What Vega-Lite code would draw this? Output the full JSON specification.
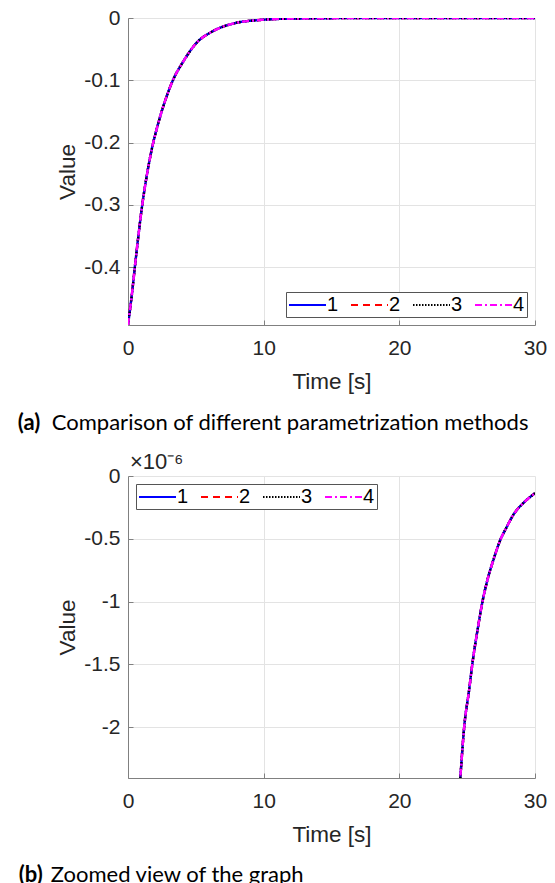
{
  "$schema": "https://vega.github.io/schema/vega-lite/v6.json",
  "background": "white",
  "padding": {"left": 17, "top": 7, "right": 5, "bottom": 0},
  "spacing": 17,
  "config": {
    "view": {"stroke": null},
    "font": "Liberation Sans",
    "axis": {
      "labelFont": "Liberation Sans", "labelFontSize": 21, "labelColor": "#262626",
      "titleFont": "Liberation Sans", "titleFontSize": 22.5, "titleFontWeight": "normal", "titleColor": "#262626",
      "gridColor": "#e3e3e3", "domainColor": "#808080", "tickColor": "#808080",
      "ticks": true, "tickSize": -5, "labelPadding": 13
    },
    "axisX": {"labelPadding": 17, "titlePadding": 12},
    "legend": {
      "title": null, "direction": "horizontal", "symbolType": "M-1,0H2.7", "symbolSize": 400,
      "symbolStrokeWidth": 2, "labelFont": "Liberation Sans", "labelFontSize": 20, "labelColor": "#000000",
      "labelOffset": 17, "columnPadding": 8, "padding": 2, "strokeColor": "#555555", "fillColor": "white",
      "offset": 8
    }
  },
  "resolve": {"scale": {"color": "independent", "strokeDash": "independent"}, "legend": {"color": "independent", "strokeDash": "independent"}},
  "datasets": {
    "curve": [
      {"t": 0, "1": -0.493, "2": -0.493, "3": -0.493, "4": -0.493},
      {"t": 0.12, "1": -0.473, "2": -0.473, "3": -0.473, "4": -0.473},
      {"t": 0.27, "1": -0.447, "2": -0.447, "3": -0.447, "4": -0.447},
      {"t": 0.51, "1": -0.399, "2": -0.399, "3": -0.399, "4": -0.399},
      {"t": 0.76, "1": -0.351, "2": -0.351, "3": -0.351, "4": -0.351},
      {"t": 1.0, "1": -0.308, "2": -0.308, "3": -0.308, "4": -0.308},
      {"t": 1.37, "1": -0.255, "2": -0.255, "3": -0.255, "4": -0.255},
      {"t": 1.74, "1": -0.212, "2": -0.212, "3": -0.212, "4": -0.212},
      {"t": 2.23, "1": -0.169, "2": -0.169, "3": -0.169, "4": -0.169},
      {"t": 2.72, "1": -0.134, "2": -0.134, "3": -0.134, "4": -0.134},
      {"t": 3.33, "1": -0.099, "2": -0.099, "3": -0.099, "4": -0.099},
      {"t": 4.07, "1": -0.07, "2": -0.07, "3": -0.07, "4": -0.07},
      {"t": 5.05, "1": -0.04, "2": -0.04, "3": -0.04, "4": -0.04},
      {"t": 6.27, "1": -0.021, "2": -0.021, "3": -0.021, "4": -0.021},
      {"t": 7.74, "1": -0.009, "2": -0.009, "3": -0.009, "4": -0.009},
      {"t": 9.7, "1": -0.0032, "2": -0.0032, "3": -0.0032, "4": -0.0032},
      {"t": 12, "1": -0.001, "2": -0.001, "3": -0.001, "4": -0.001},
      {"t": 15, "1": -0.0003, "2": -0.0003, "3": -0.0003, "4": -0.0003},
      {"t": 18, "1": -0.00007, "2": -0.00007, "3": -0.00007, "4": -0.00007},
      {"t": 21, "1": -0.000014, "2": -0.000014, "3": -0.000014, "4": -0.000014},
      {"t": 24, "1": -0.0000031, "2": -0.0000031, "3": -0.0000031, "4": -0.0000031},
      {"t": 24.49, "1": -0.00000241, "2": -0.00000241, "3": -0.00000241, "4": -0.00000241},
      {"t": 24.78, "1": -0.000002, "2": -0.000002, "3": -0.000002, "4": -0.000002},
      {"t": 25.15, "1": -0.0000017, "2": -0.0000017, "3": -0.0000017, "4": -0.0000017},
      {"t": 25.39, "1": -0.00000149, "2": -0.00000149, "3": -0.00000149, "4": -0.00000149},
      {"t": 25.76, "1": -0.00000123, "2": -0.00000123, "3": -0.00000123, "4": -0.00000123},
      {"t": 26.13, "1": -0.000001, "2": -0.000001, "3": -0.000001, "4": -0.000001},
      {"t": 26.49, "1": -0.00000083, "2": -0.00000083, "3": -0.00000083, "4": -0.00000083},
      {"t": 26.99, "1": -0.00000065, "2": -0.00000065, "3": -0.00000065, "4": -0.00000065},
      {"t": 27.48, "1": -0.0000005, "2": -0.0000005, "3": -0.0000005, "4": -0.0000005},
      {"t": 27.85, "1": -0.00000042, "2": -0.00000042, "3": -0.00000042, "4": -0.00000042},
      {"t": 28.46, "1": -0.0000003, "2": -0.0000003, "3": -0.0000003, "4": -0.0000003},
      {"t": 29.19, "1": -0.00000021, "2": -0.00000021, "3": -0.00000021, "4": -0.00000021},
      {"t": 30, "1": -0.000000137, "2": -0.000000137, "3": -0.000000137, "4": -0.000000137}
    ]
  },
  "vconcat": [
    {
      "title": {"text": "(a)", "orient": "bottom", "anchor": "start", "frame": "bounds", "font": "Lato", "fontSize": 22, "fontWeight": "bold", "color": "#000000", "offset": 0, "dx": -34, "dy": -20.5},
      "resolve": {"scale": {"color": "independent", "strokeDash": "independent"}, "legend": {"color": "independent", "strokeDash": "independent"}},
      "vconcat": [
        {
          "title": {"text": "Comparison of different parametrization methods", "orient": "bottom", "anchor": "start", "frame": "bounds", "font": "Lato", "fontSize": 22, "fontWeight": "normal", "color": "#000000", "offset": 20, "dx": -5},
          "data": {"name": "curve"},
          "width": 407,
          "height": 307,
          "transform": [{"fold": ["2", "1", "3", "4"], "as": ["method", "value"]}],
          "mark": {"type": "line", "strokeWidth": 2.4, "clip": true, "interpolate": "monotone"},
          "encoding": {
            "x": {"field": "t", "type": "quantitative", "scale": {"domain": [0, 30], "nice": false},
                  "axis": {"title": "Time [s]", "values": [0, 10, 20, 30], "labelFlush": false, "grid": true}},
            "y": {"field": "value", "type": "quantitative", "scale": {"domain": [-0.493, 0], "nice": false, "zero": false},
                  "axis": {"title": "Value", "values": [-0.4, -0.3, -0.2, -0.1, 0], "labelFlush": false, "grid": true,
                           "labelExpr": "datum.value == 0 ? '0' : '-' + format(-datum.value, '.1f')"}},
            "color": {"field": "method", "type": "nominal",
                      "scale": {"domain": ["1", "2", "3", "4"], "range": ["#0000ff", "#ff0000", "#000000", "#ff00ff"]},
                      "legend": {"orient": "bottom-right"}},
            "strokeDash": {"field": "method", "type": "nominal",
                      "scale": {"domain": ["1", "2", "3", "4"], "range": [[1, 0], [7, 5], [1.5, 1.5], [7, 3, 2, 3]]},
                      "legend": {"orient": "bottom-right"}}
          }
        }
      ]
    },
    {
      "title": {"text": "(b)", "orient": "bottom", "anchor": "start", "frame": "bounds", "font": "Lato", "fontSize": 22, "fontWeight": "bold", "color": "#000000", "offset": 0, "dx": -32, "dy": -20.5},
      "resolve": {"scale": {"color": "independent", "strokeDash": "independent"}, "legend": {"color": "independent", "strokeDash": "independent"}},
      "vconcat": [
        {
          "title": {"text": "Zoomed view of the graph", "orient": "bottom", "anchor": "start", "frame": "bounds", "font": "Lato", "fontSize": 22, "fontWeight": "normal", "color": "#000000", "offset": 19, "dx": -6},
          "resolve": {"scale": {"color": "independent", "strokeDash": "independent"}, "legend": {"color": "independent", "strokeDash": "independent"}},
          "vconcat": [
            {
              "title": {"text": "×10⁻⁶", "orient": "top", "anchor": "start", "frame": "group", "font": "Liberation Sans", "fontSize": 22, "fontWeight": "normal", "color": "#262626", "offset": 0, "dx": 2, "dy": 9},
              "data": {"name": "curve"},
              "width": 407,
              "height": 302,
              "transform": [{"filter": "datum.t >= 24"}, {"fold": ["2", "1", "3", "4"], "as": ["method", "value"]}],
              "mark": {"type": "line", "strokeWidth": 2.4, "clip": true, "interpolate": "monotone"},
              "encoding": {
                "x": {"field": "t", "type": "quantitative", "scale": {"domain": [0, 30], "nice": false},
                      "axis": {"title": "Time [s]", "values": [0, 10, 20, 30], "labelFlush": false, "grid": true}},
                "y": {"field": "value", "type": "quantitative", "scale": {"domain": [-0.000002406, 0], "nice": false, "zero": false},
                      "axis": {"title": "Value", "values": [-0.000002, -0.0000015, -0.000001, -0.0000005, 0], "labelFlush": false, "grid": true,
                               "labelExpr": "datum.value == 0 ? '0' : '-' + format(-datum.value * 1000000, '.1~f')"}},
                "color": {"field": "method", "type": "nominal",
                          "scale": {"domain": ["1", "2", "3", "4"], "range": ["#0000ff", "#ff0000", "#000000", "#ff00ff"]},
                          "legend": {"orient": "top-left"}},
                "strokeDash": {"field": "method", "type": "nominal",
                          "scale": {"domain": ["1", "2", "3", "4"], "range": [[1, 0], [7, 5], [1.5, 1.5], [7, 3, 2, 3]]},
                          "legend": {"orient": "top-left"}}
              }
            }
          ]
        }
      ]
    }
  ]
}
